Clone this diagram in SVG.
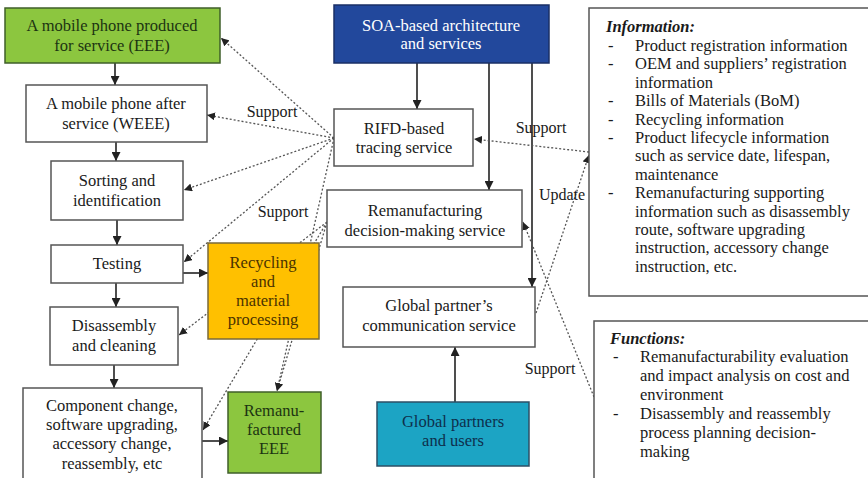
<svg xmlns="http://www.w3.org/2000/svg" width="868" height="478" viewBox="0 0 868 478" font-family="Liberation Serif, DejaVu Serif, serif">
  <style>
    .box { fill: #ffffff; stroke: #555555; stroke-width: 1.5; }
    .green { fill: #8cc63f; stroke: #3f5f2a; stroke-width: 1.5; }
    .orange { fill: #ffc000; stroke: #7a6a3a; stroke-width: 1.5; }
    .blue { fill: #22489c; stroke: #1a2f66; stroke-width: 1.5; }
    .cyan { fill: #1ca4c4; stroke: #2c4f66; stroke-width: 1.5; }
    text { font-family: "Liberation Serif", "DejaVu Serif", serif; font-size: 16.5px; fill: #1a1a1a; }
    .c { text-anchor: middle; }
    .dgreen { fill: #1c3412; }
    .dorange { fill: #4a3300; }
    .dcyan { fill: #0e2f4c; }
    .white { fill: #ffffff; }
    .head { font-weight: bold; font-style: italic; }
    .solid { stroke: #222222; stroke-width: 1.6; fill: none; marker-end: url(#arrow); }
    .dot { stroke: #555555; stroke-width: 1.3; stroke-dasharray: 2 2; fill: none; marker-end: url(#arrowSmall); }
    .lbl { font-size: 16px; }
  </style>
  <defs>
    <marker id="arrow" viewBox="0 0 10 10" refX="10" refY="5" markerWidth="9" markerHeight="9" markerUnits="userSpaceOnUse" orient="auto">
      <path d="M0,0 L10,5 L0,10 Z" fill="#222222"/>
    </marker>
    <marker id="arrowSmall" viewBox="0 0 10 10" refX="10" refY="5" markerWidth="8" markerHeight="8" markerUnits="userSpaceOnUse" orient="auto">
      <path d="M0,0 L10,5 L0,10 Z" fill="#222222"/>
    </marker>
  </defs>

  <!-- connectors -->
  <g id="connectors">
    <!-- process chain -->
    <line class="solid" x1="115" y1="63" x2="115" y2="85"/>
    <line class="solid" x1="116" y1="142" x2="116" y2="161"/>
    <line class="solid" x1="117" y1="220" x2="117" y2="245"/>
    <line class="solid" x1="116" y1="283" x2="116" y2="307"/>
    <line class="solid" x1="114" y1="365" x2="114" y2="388"/>
    <line class="solid" x1="183" y1="273" x2="208" y2="273"/>
    <line class="solid" x1="202" y1="441" x2="228" y2="441"/>
    <!-- architecture to services -->
    <line class="solid" x1="417" y1="63" x2="417" y2="109"/>
    <line class="solid" x1="489" y1="63" x2="489" y2="190"/>
    <line class="solid" x1="532" y1="63" x2="532" y2="287"/>
    <line class="solid" x1="455" y1="402" x2="455" y2="347"/>
    <!-- tracing service support links -->
    <line class="dot" x1="334" y1="138" x2="221" y2="38"/>
    <line class="dot" x1="334" y1="138" x2="207" y2="115"/>
    <line class="dot" x1="334" y1="138" x2="184" y2="190"/>
    <line class="dot" x1="334" y1="138" x2="184" y2="262"/>
    <line class="dot" x1="334" y1="138" x2="277" y2="391"/>
    <!-- decision service support links -->
    <line class="dot" x1="327" y1="222" x2="179" y2="335"/>
    <line class="dot" x1="327" y1="222" x2="203" y2="430"/>
    <line class="dot" x1="327" y1="222" x2="277" y2="391"/>
    <!-- information / functions links -->
    <line class="dot" x1="589" y1="152" x2="474" y2="139"/>
    <line class="dot" x1="536" y1="313" x2="589" y2="155"/>
    <line class="dot" x1="594" y1="397" x2="523" y2="222"/>
    <!-- labels -->
    <text class="lbl c" x="272" y="117">Support</text>
    <text class="lbl c" x="283" y="217">Support</text>
    <text class="lbl c" x="541" y="133">Support</text>
    <text class="lbl c" x="562" y="200">Update</text>
    <text class="lbl c" x="550" y="374">Support</text>
  </g>

  <g id="eee">
    <rect class="green" x="5" y="8" width="215" height="55"/>
    <text class="c dgreen" x="112" y="31">A mobile phone produced</text>
    <text class="c dgreen" x="112" y="51">for service (EEE)</text>
  </g>
  <g id="weee">
    <rect class="box" x="26" y="85" width="181" height="57"/>
    <text class="c" x="116" y="109">A mobile phone after</text>
    <text class="c" x="116" y="129">service (WEEE)</text>
  </g>
  <g id="sorting">
    <rect class="box" x="51" y="161" width="132" height="59"/>
    <text class="c" x="117" y="186">Sorting and</text>
    <text class="c" x="117" y="206">identification</text>
  </g>
  <g id="testing">
    <rect class="box" x="51" y="245" width="132" height="38"/>
    <text class="c" x="117" y="269">Testing</text>
  </g>
  <g id="disassembly">
    <rect class="box" x="50" y="307" width="128" height="58"/>
    <text class="c" x="114" y="331">Disassembly</text>
    <text class="c" x="114" y="351">and cleaning</text>
  </g>
  <g id="component">
    <rect class="box" x="23" y="388" width="179" height="100"/>
    <text class="c" x="112" y="411">Component change,</text>
    <text class="c" x="112" y="430">software upgrading,</text>
    <text class="c" x="112" y="449">accessory change,</text>
    <text class="c" x="112" y="469">reassembly, etc</text>
  </g>
  <g id="recycling">
    <rect class="orange" x="208" y="243" width="111" height="96"/>
    <text class="c dorange" x="263" y="268">Recycling</text>
    <text class="c dorange" x="263" y="287">and</text>
    <text class="c dorange" x="263" y="306">material</text>
    <text class="c dorange" x="263" y="325">processing</text>
  </g>
  <g id="remanufactured">
    <rect class="green" x="228" y="392" width="93" height="81"/>
    <text class="c dgreen" x="274" y="416">Remanu-</text>
    <text class="c dgreen" x="274" y="435">factured</text>
    <text class="c dgreen" x="274" y="454">EEE</text>
  </g>
  <g id="soa">
    <rect class="blue" x="334" y="5" width="215" height="58"/>
    <text class="c white" x="441" y="31">SOA-based architecture</text>
    <text class="c white" x="441" y="49">and services</text>
  </g>
  <g id="rifd">
    <rect class="box" x="334" y="109" width="139" height="57"/>
    <text class="c" x="404" y="134">RIFD-based</text>
    <text class="c" x="404" y="153">tracing service</text>
  </g>
  <g id="decision">
    <rect class="box" x="327" y="190" width="195" height="57"/>
    <text class="c" x="425" y="216">Remanufacturing</text>
    <text class="c" x="425" y="236">decision-making service</text>
  </g>
  <g id="communication">
    <rect class="box" x="343" y="287" width="192" height="60"/>
    <text class="c" x="439" y="311">Global partner’s</text>
    <text class="c" x="439" y="331">communication service</text>
  </g>
  <g id="partners">
    <rect class="cyan" x="377" y="402" width="152" height="64"/>
    <text class="c dcyan" x="453" y="427">Global partners</text>
    <text class="c dcyan" x="453" y="446">and users</text>
  </g>
  <g id="information">
    <rect class="box" x="589" y="8" width="285" height="288"/>
    <text class="head" x="606" y="32">Information:</text>
    <text x="608" y="51">-</text><text x="635" y="51">Product registration information</text>
    <text x="608" y="69">-</text><text x="635" y="69">OEM and suppliers’ registration</text>
    <text x="635" y="88">information</text>
    <text x="608" y="106">-</text><text x="635" y="106">Bills of Materials (BoM)</text>
    <text x="608" y="125">-</text><text x="635" y="125">Recycling information</text>
    <text x="608" y="143">-</text><text x="635" y="143">Product lifecycle information</text>
    <text x="635" y="161">such as service date, lifespan,</text>
    <text x="635" y="180">maintenance</text>
    <text x="608" y="198">-</text><text x="635" y="198">Remanufacturing supporting</text>
    <text x="635" y="217">information such as disassembly</text>
    <text x="635" y="235">route, software upgrading</text>
    <text x="635" y="253">instruction, accessory change</text>
    <text x="635" y="272">instruction, etc.</text>
  </g>
  <g id="functions">
    <rect class="box" x="594" y="321" width="285" height="170"/>
    <text class="head" x="610" y="344">Functions:</text>
    <text x="613" y="362">-</text><text x="640" y="362">Remanufacturability evaluation</text>
    <text x="640" y="381">and impact analysis on cost and</text>
    <text x="640" y="400">environment</text>
    <text x="613" y="419">-</text><text x="640" y="419">Disassembly and reassembly</text>
    <text x="640" y="438">process planning decision-</text>
    <text x="640" y="457">making</text>
  </g>
</svg>
